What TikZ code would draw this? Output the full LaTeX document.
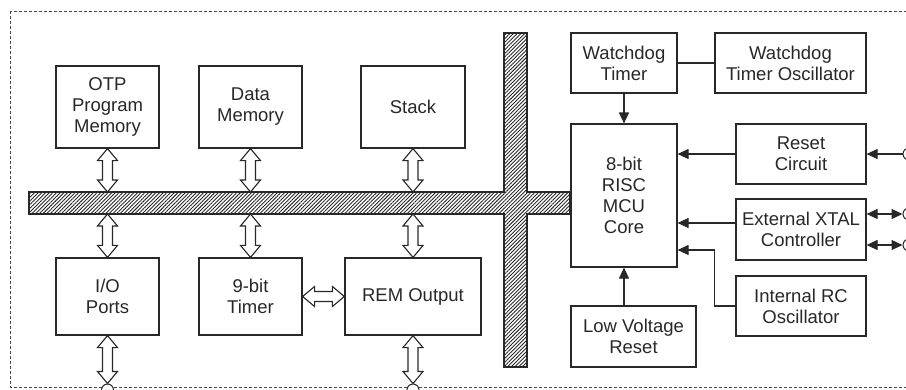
\documentclass[tikz,border=0pt]{standalone}
\usepackage{fontspec}
\setmainfont{Liberation Sans}
\usetikzlibrary{arrows.meta,calc,patterns.meta}
\definecolor{ink}{RGB}{40,40,40}

\newcommand{\vbusarrow}[2]{%
  \draw[busarrow] let \p1=(#1), \p2=(#2) in
    (\x1,\y1) -- (\x1-10pt,\y1-12pt) -- (\x1-5pt,\y1-12pt) -- (\x1-5pt,\y2+12pt)
    -- (\x1-10pt,\y2+12pt) -- (\x1,\y2) -- (\x1+10pt,\y2+12pt) -- (\x1+5pt,\y2+12pt)
    -- (\x1+5pt,\y1-12pt) -- (\x1+10pt,\y1-12pt) -- cycle;}
\newcommand{\hbusarrow}[2]{%
  \draw[busarrow] let \p1=(#1), \p2=(#2) in
    (\x1,\y1) -- (\x1+12pt,\y1+10pt) -- (\x1+12pt,\y1+5pt) -- (\x2-12pt,\y1+5pt)
    -- (\x2-12pt,\y1+10pt) -- (\x2,\y1) -- (\x2-12pt,\y1-10pt) -- (\x2-12pt,\y1-5pt)
    -- (\x1+12pt,\y1-5pt) -- (\x1+12pt,\y1-10pt) -- cycle;}

\begin{document}
\begin{tikzpicture}[x=1pt,y=-1pt,line join=miter,
  font=\fontsize{18.5}{21}\selectfont,
  block/.style={draw=ink,fill=white,line width=1.2pt,text=ink,align=center,inner sep=0pt},
  busarrow/.style={draw=ink,fill=white,line width=1.1pt},
  sig/.style={draw=ink,line width=1.2pt},
  sigarrow/.style={sig,-{Triangle[length=11pt,width=10pt]}},
  sigboth/.style={sig,{Triangle[length=11pt,width=10pt]}-{Triangle[length=11pt,width=10pt]}},
  port/.style={circle,draw=ink,fill=white,line width=1pt,minimum size=12pt,inner sep=0pt},
  busbox/.style={inner sep=0pt,outer sep=0pt}]
\useasboundingbox (0,0) rectangle (906,389);
\clip (0,0) rectangle (906,389);

\draw[ink!85,line width=0.9pt,dash pattern=on 3pt off 2pt] (10,11) rectangle (940,387);

% bus
\node[busbox,minimum width=541pt,minimum height=22pt] (hbus) at (299.5,203) {};
\node[busbox,minimum width=23pt,minimum height=334pt] (vbus) at (515.5,200) {};
\draw[ink,line width=1.1pt,pattern={Lines[angle=45,distance=2.6pt,line width=0.9pt]},pattern color=ink]
  (hbus.north west) -- (vbus.west |- hbus.north) -- (vbus.north west) -- (vbus.north east)
  -- (vbus.east |- hbus.north) -- (hbus.north east) -- (hbus.south east) -- (vbus.east |- hbus.south)
  -- (vbus.south east) -- (vbus.south west) -- (vbus.west |- hbus.south) -- (hbus.south west) -- cycle;

% left blocks
\node[block,minimum width=103pt,minimum height=82pt] (otp) at (107.5,107) {OTP\\Program\\Memory};
\node[block,minimum width=103pt,minimum height=82pt] (ram) at (250.5,107) {Data\\Memory};
\node[block,minimum width=104pt,minimum height=82pt] (stack) at (413,107) {Stack};
\node[block,minimum width=103pt,minimum height=77pt] (io) at (107.5,296.5) {I/O\\Ports};
\node[block,minimum width=103pt,minimum height=77pt] (timer) at (250.5,296.5) {9-bit\\Timer};
\node[block,minimum width=136pt,minimum height=77pt] (rem) at (413,296.5) {REM Output};

% right blocks
\node[block,minimum width=106pt,minimum height=60pt] (wdt) at (624,63) {Watchdog\\Timer};
\node[block,minimum width=151pt,minimum height=60pt] (wdtosc) at (790.5,63) {Watchdog\\Timer Oscillator};
\node[block,minimum width=106pt,minimum height=143pt] (core) at (624,195.5) {8-bit\\RISC\\MCU\\Core};
\node[block,minimum width=130pt,minimum height=60pt] (reset) at (801,154) {Reset\\Circuit};
\node[block,minimum width=130pt,minimum height=61pt] (xtal) at (801,229.5) {External XTAL\\Controller};
\node[block,minimum width=130pt,minimum height=60pt] (rcosc) at (801,306) {Internal RC\\Oscillator};
\node[block,minimum width=125pt,minimum height=61pt] (lvr) at (633.5,336.5) {Low Voltage\\Reset};

% pins
\node[port] (pio) at (107.5,390) {};
\node[port] (prem) at (413,390) {};
\node[port] (prst) at (909,154) {};
\node[port] (px1) at (909,214) {};
\node[port] (px2) at (909,245) {};
\coordinate (xout) at ([yshift=6.5pt]xtal.west);
\coordinate (rcin) at ([yshift=-54.5pt]core.east);

% bus arrows
\vbusarrow{otp.south}{otp.south |- hbus.north}
\vbusarrow{ram.south}{ram.south |- hbus.north}
\vbusarrow{stack.south}{stack.south |- hbus.north}
\vbusarrow{io.north |- hbus.south}{io.north}
\vbusarrow{timer.north |- hbus.south}{timer.north}
\vbusarrow{rem.north |- hbus.south}{rem.north}
\vbusarrow{io.south}{pio.north}
\vbusarrow{rem.south}{prem.north}
\hbusarrow{timer.east}{rem.west}

% signals
\draw[sig] (wdt.east) -- (wdtosc.west);
\draw[sigarrow] (wdt.south) -- (core.north);
\draw[sigarrow] (core.south |- lvr.north) -- (core.south);
\draw[sigarrow] (reset.west) -- (core.east |- reset.west);
\draw[sigarrow] (xout) -- (core.east |- xout);
\draw[sigarrow] (rcosc.west) -- ++(-21,0) |- (rcin);
\draw[sigarrow] (prst.west) -- (reset.east |- prst.west);
\draw[sigboth] (xtal.east |- px1.west) -- (px1.west);
\draw[sigboth] (xtal.east |- px2.west) -- (px2.west);
\end{tikzpicture}
\end{document}
